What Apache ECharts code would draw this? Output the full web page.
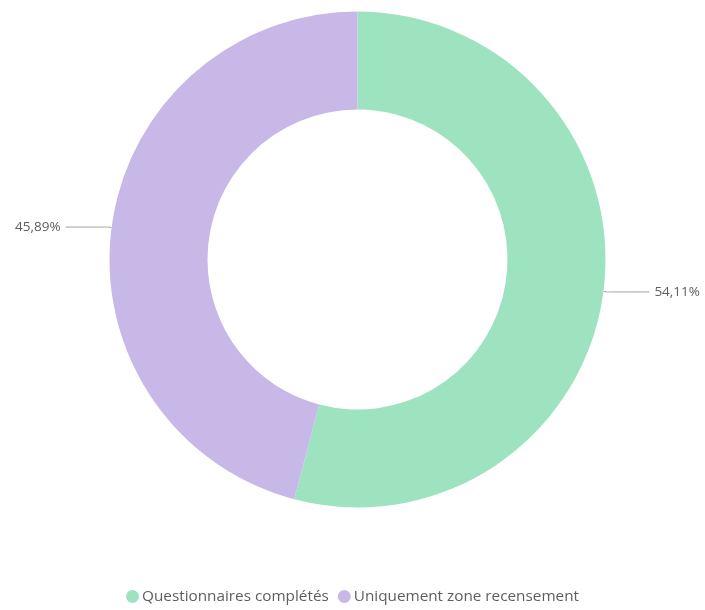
<!DOCTYPE html>
<html><head><meta charset="utf-8">
<script src="https://cdn.jsdelivr.net/npm/echarts@6/dist/echarts.min.js"></script>
<style>html,body{margin:0;padding:0;background:#fff}#c{width:705px;height:610px}</style>
</head><body><div id="c"></div>
<script>
const categories = ['Questionnaires complétés', 'Uniquement zone recensement'];
const values = [54.11, 45.89];
const colors = ['#9DE3BF', '#C8B8E8'];
const chart = echarts.init(document.getElementById('c'), null, {renderer: 'canvas'});
chart.setOption({
  animation: false,
  color: colors,
  legend: {
    bottom: 1, left: 'center', icon: 'circle', itemWidth: 13, itemHeight: 13, itemGap: 9,
    textStyle: {color: '#605E5C', fontSize: 15.3, fontFamily: 'Open Sans', padding: [0, 0, 0, -2]},
    data: categories
  },
  series: [{
    type: 'pie',
    center: [357.5, 259.5],
    radius: [150, 248],
    startAngle: 90,
    clockwise: true,
    label: {
      show: true,
      overflow: 'none',
      formatter: p => p.value.toFixed(2).replace('.', ',') + '%',
      color: '#605E5C', fontSize: 13.5, fontFamily: 'Open Sans'
    },
    labelLine: {show: true, length: 4, length2: 42, smooth: true, lineStyle: {color: '#A0A0A0', width: 1}},
    itemStyle: {borderWidth: 0},
    data: categories.map((n, i) => ({name: n, value: values[i]}))
  }]
});
</script></body></html>
